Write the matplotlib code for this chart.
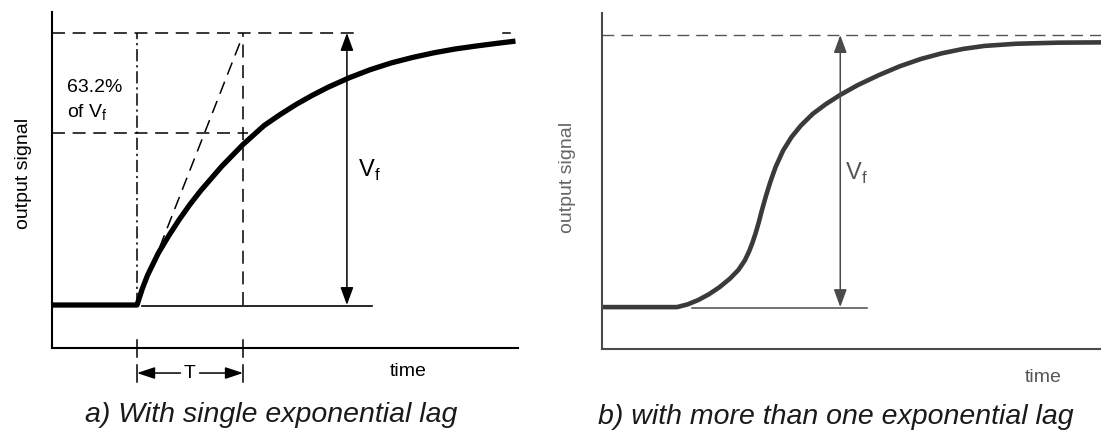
import matplotlib.pyplot as plt

plt.rcParams['font.family'] = ['Liberation Sans', 'DejaVu Sans']
plt.rcParams['mathtext.fontset'] = 'custom'
plt.rcParams['mathtext.rm'] = 'Liberation Sans'

# a) single exponential lag: time in units of T, signal as fraction of Vf
lag_t = [-0.80, 0.0, 0.05, 0.1, 0.2, 0.3, 0.4, 0.5, 0.6, 0.7, 0.8, 0.9, 1.0,
         1.1, 1.2, 1.35, 1.5, 1.65, 1.8, 2.0, 2.2, 2.4, 2.6, 2.8, 3.0, 3.2,
         3.4, 3.57]
lag_v = [0.0, 0.0, 0.06, 0.11, 0.19, 0.255, 0.315, 0.37, 0.42, 0.465, 0.51,
         0.55, 0.59, 0.625, 0.66, 0.70, 0.737, 0.77, 0.80, 0.835, 0.865, 0.89,
         0.91, 0.927, 0.941, 0.952, 0.962, 0.970]

# b) more than one exponential lag (S-shaped response)
multi_t = [-0.71, 0.0, 0.1, 0.2, 0.3, 0.4, 0.5, 0.58, 0.64, 0.68, 0.71, 0.74,
           0.77, 0.80, 0.84, 0.88, 0.93, 1.0, 1.08, 1.17, 1.28, 1.4, 1.54,
           1.7, 1.9, 2.1, 2.3, 2.5, 2.7, 2.9, 3.2, 3.6, 4.0]
multi_v = [0.0, 0.0, 0.01, 0.026, 0.047, 0.073, 0.105, 0.137, 0.172, 0.205,
           0.235, 0.27, 0.31, 0.355, 0.41, 0.46, 0.515, 0.575, 0.625, 0.668,
           0.71, 0.745, 0.78, 0.815, 0.852, 0.885, 0.912, 0.933, 0.949, 0.96,
           0.968, 0.972, 0.973]

fraction_at_T = 0.632
captions = ['a) With single exponential lag', 'b) with more than one exponential lag']

DASH = (0, (8.5, 5))
DASHDOT = (0, (8, 2.5, 1.5, 2.5))


def setup_axes(ax, color):
    for side in ['top', 'right']:
        ax.spines[side].set_visible(False)
    for side in ['left', 'bottom']:
        ax.spines[side].set_linewidth(1.5)
        ax.spines[side].set_color(color)
    ax.set_xticks([])
    ax.set_yticks([])
    ax.patch.set_visible(False)


def double_arrow(ax, t, color):
    ax.annotate('', xy=(t, 1.0), xytext=(t, 0.0),
                arrowprops=dict(arrowstyle='<|-|>,head_length=0.6,head_width=0.22',
                                color=color, lw=1.1, mutation_scale=18,
                                shrinkA=0, shrinkB=0))


fig = plt.figure(figsize=(11.01, 4.34), dpi=100)

# ---- panel a
ax = fig.add_axes([52 / 1101, 86 / 434, 466 / 1101, 336 / 434])
setup_axes(ax, 'black')
ax.set_xlim(-0.802, 3.594)
ax.set_ylim(-0.158, 1.077)

ax.plot(lag_t, lag_v, color='black', lw=3.8, solid_joinstyle='round', solid_capstyle='butt')
ax.plot([0.05, 2.22], [-0.004, -0.004], color='black', lw=1.2)
ax.plot([-0.802, 2.06], [1, 1], color='black', lw=1.1, linestyle=DASH)
ax.plot([3.45, 3.52], [1, 1], color='black', lw=1.1)
ax.plot([-0.802, 1.05], [fraction_at_T, fraction_at_T], color='black', lw=1.1, linestyle=DASH)
ax.plot([0, 0], [0, 1], color='black', lw=1.1, linestyle=DASHDOT)
ax.plot([1, 1], [0, 1], color='black', lw=1.1, linestyle=DASH)
ax.plot([0, 0.97], [0, 0.963], color='black', lw=1.1, linestyle=DASH)
double_arrow(ax, 1.98, 'black')

for t in [0, 1]:
    ax.plot([t, t], [-0.129, -0.191], color='black', lw=1.1, clip_on=False)
    ax.plot([t, t], [-0.22, -0.283], color='black', lw=1.1, clip_on=False)
for start, end in [(0.41, 0.0), (0.59, 1.0)]:
    ax.annotate('', xy=(end, -0.25), xytext=(start, -0.25), annotation_clip=False,
                arrowprops=dict(arrowstyle='-|>,head_length=0.6,head_width=0.2',
                                color='black', lw=1.1, mutation_scale=18,
                                shrinkA=0, shrinkB=0))
ax.text(0.5, -0.25, 'T', fontsize=14, ha='center', va='center')

ax.text(-0.66, 0.798, '63.2%', fontsize=14, ha='left', va='center')
ax.text(-0.66, 0.706, 'of V$_\\mathregular{f}$', fontsize=14, ha='left', va='center')
ax.text(2.085, 0.496, 'V$_\\mathregular{f}$', fontsize=17, ha='left', va='center')
ax.text(2.56, -0.246, 'time', fontsize=14, ha='center', va='center')
ax.text(-1.075, 0.485, 'output signal', fontsize=14, rotation=90, ha='center', va='center')

# ---- panel b
gray = '#4a4a4a'
ax = fig.add_axes([602 / 1101, 85 / 434, 499 / 1101, 336 / 434])
setup_axes(ax, gray)
ax.set_xlim(-0.708, 4.0)
ax.set_ylim(-0.154, 1.081)

ax.plot(multi_t, multi_v, color='#3a3a3a', lw=3.3, solid_joinstyle='round', solid_capstyle='butt')
ax.plot([0.14, 1.79], [-0.004, -0.004], color=gray, lw=1.1)
ax.plot([-0.708, 4.0], [1, 1], color='#555555', lw=1.0, linestyle=DASH)
double_arrow(ax, 1.54, gray)

ax.text(1.58, 0.49, 'V$_\\mathregular{f}$', fontsize=17, color='#555555', ha='left', va='center')
ax.text(3.45, -0.257, 'time', fontsize=14, color='#555555', ha='center', va='center')
ax.text(-1.03, 0.478, 'output signal', fontsize=14, color='#666666', rotation=90,
        ha='center', va='center')

fig.text(0.246, 0.044, captions[0], fontsize=20.5, style='italic', color='#1a1a1a',
         ha='center', va='center')
fig.text(0.759, 0.039, captions[1], fontsize=20.5, style='italic', color='#1a1a1a',
         ha='center', va='center')

fig.savefig('out.png', dpi=100)
